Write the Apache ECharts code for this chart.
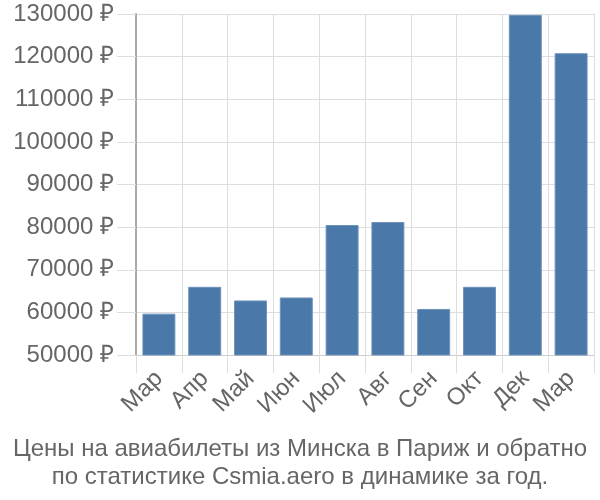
<!DOCTYPE html>
<html><head><meta charset="utf-8">
<script src="https://cdn.jsdelivr.net/npm/echarts@6/dist/echarts.min.js"></script>
<style>html,body{margin:0;padding:0;background:#fff}#c{width:600px;height:500px}</style>
</head><body><div id="c"></div>
<script>
const categories = ["Мар","Апр","Май","Июн","Июл","Авг","Сен","Окт","Дек","Мар"];
const prices = [59700, 66000, 62800, 63500, 80500, 81200, 60800, 66000, 129800, 120800];
const yMin = 50000, yMax = 130000, yStep = 10000;
const titleText = "Цены на авиабилеты из Минска в Париж и обратно\nпо статистике Csmia.aero в динамике за год.";

const chart = echarts.init(document.getElementById('c'), null, {renderer:'canvas'});
chart.setOption({
  animation:false,
  textStyle:{fontFamily:'"Liberation Sans", Arial, sans-serif'},
  title:{text:titleText,left:'center',top:430,textStyle:{fontSize:24,fontWeight:'normal',color:'#666',lineHeight:28,fontFamily:'"Liberation Sans", Arial, sans-serif'}},
  grid:{left:136,right:6,top:14,bottom:145,containLabel:false},
  xAxis:{type:'category',data:categories,
    axisLine:{show:true,lineStyle:{color:'#ccc',width:1}},
    axisTick:{show:true,length:18,lineStyle:{color:'#ddd'}},
    splitLine:{show:true,lineStyle:{color:'#ddd'}},
    axisLabel:{rotate:45,fontSize:24,color:'#666',margin:20,interval:0}
  },
  yAxis:{type:'value',min:yMin,max:yMax,interval:yStep,
    axisLine:{show:true,lineStyle:{color:'#aaa',width:2}},
    axisTick:{show:true,length:19,lineStyle:{color:'#ddd'}},
    splitLine:{show:true,lineStyle:{color:'#ddd'}},
    axisLabel:{fontSize:24,color:'#666',margin:22,formatter:v=>v+' ₽'}
  },
  series:[{type:'bar',data:prices,barCategoryGap:'28%',
    itemStyle:{color:'#4a78a8',borderColor:'#6f93bb',borderWidth:1}}]
});
</script></body></html>
